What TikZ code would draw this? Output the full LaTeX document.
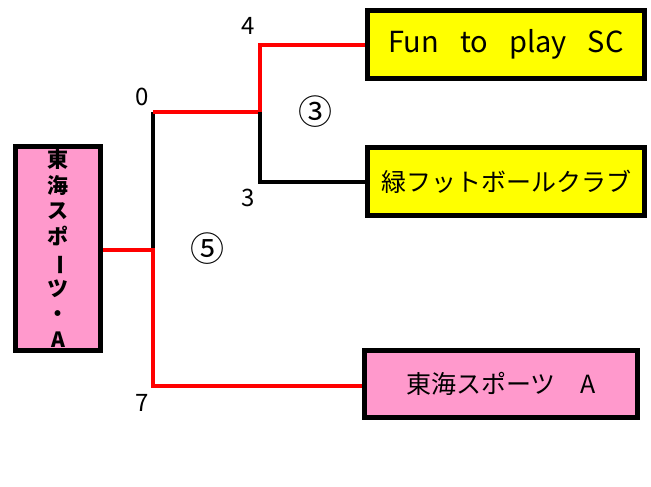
\documentclass[tikz,border=0pt]{standalone}
\usepackage{fontspec}
\setmainfont{Noto Sans CJK JP}
\usetikzlibrary{positioning}

\definecolor{teamyellow}{RGB}{255,255,0}
\definecolor{teampink}{RGB}{255,153,204}

\tikzset{
  team/.style={draw=black, line width=5pt, minimum width=277pt, minimum height=68pt, inner sep=0pt, font=\fontsize{25}{28}\selectfont},
  win/.style={draw=red, line width=4pt},
  lose/.style={draw=black, line width=4pt},
  score/.style={font=\fontsize{24}{26}\selectfont, inner sep=0pt},
  gamenum/.style={font=\fontsize{34}{36}\selectfont, inner sep=0pt}
}

\begin{document}
\begin{tikzpicture}[x=1pt, y=-1pt]
        \useasboundingbox (0,0) rectangle (651,487);
        \node[team, fill=teampink, minimum width=85pt, minimum height=204pt, align=center,
              font=\bfseries\fontsize{21}{25.7}\selectfont] (champ) at (58,248.5)
              {東\\海\\ス\\ポ\\\rotatebox[origin=c]{-90}{ー}\\ツ\\・\\A};
        \node[team, fill=teamyellow, font=\fontsize{29}{32}\selectfont] (fun) at (506,44.5)
              {Fun\hspace{21pt}to\hspace{21pt}play\hspace{21pt}SC};
        \node[team, fill=teamyellow] (green) at (506,181.5) {緑フットボールクラブ};
        \node[team, fill=teampink, minimum width=273pt, minimum height=67pt] (tokai) at (501,384) {東海スポーツ　A};
        \coordinate (j1) at (153,112);
        \coordinate (j0) at (153,250);
        \coordinate (j2) at (153,386);
        \coordinate (k1) at (260,45);
        \coordinate (k0) at (260,112);
        \coordinate (k2) at (260,182);
        % final
        \draw[lose] (j1) -- (j0);
        \draw[win] (champ.east |- j0) -- (j0) -- (j2) -- (j2 -| tokai.west);
        % semi final
        \draw[win] (j1) -- (k0) -- (k1) -- (k1 -| fun.west);
        \draw[lose] (k0) -- (k2) -- (k2 -| green.west);
        \node[score] (s4) at (248,26) {4};
        \node[score] (s0) at (142,97) {0};
        \node[score] (s3) at (248,198) {3};
        \node[score] (s7) at (142,403) {7};
        \node[gamenum] (g3) at (315,112) {③};
        \node[gamenum] (g5) at (207,249) {⑤};
    \end{tikzpicture}
\end{document}
